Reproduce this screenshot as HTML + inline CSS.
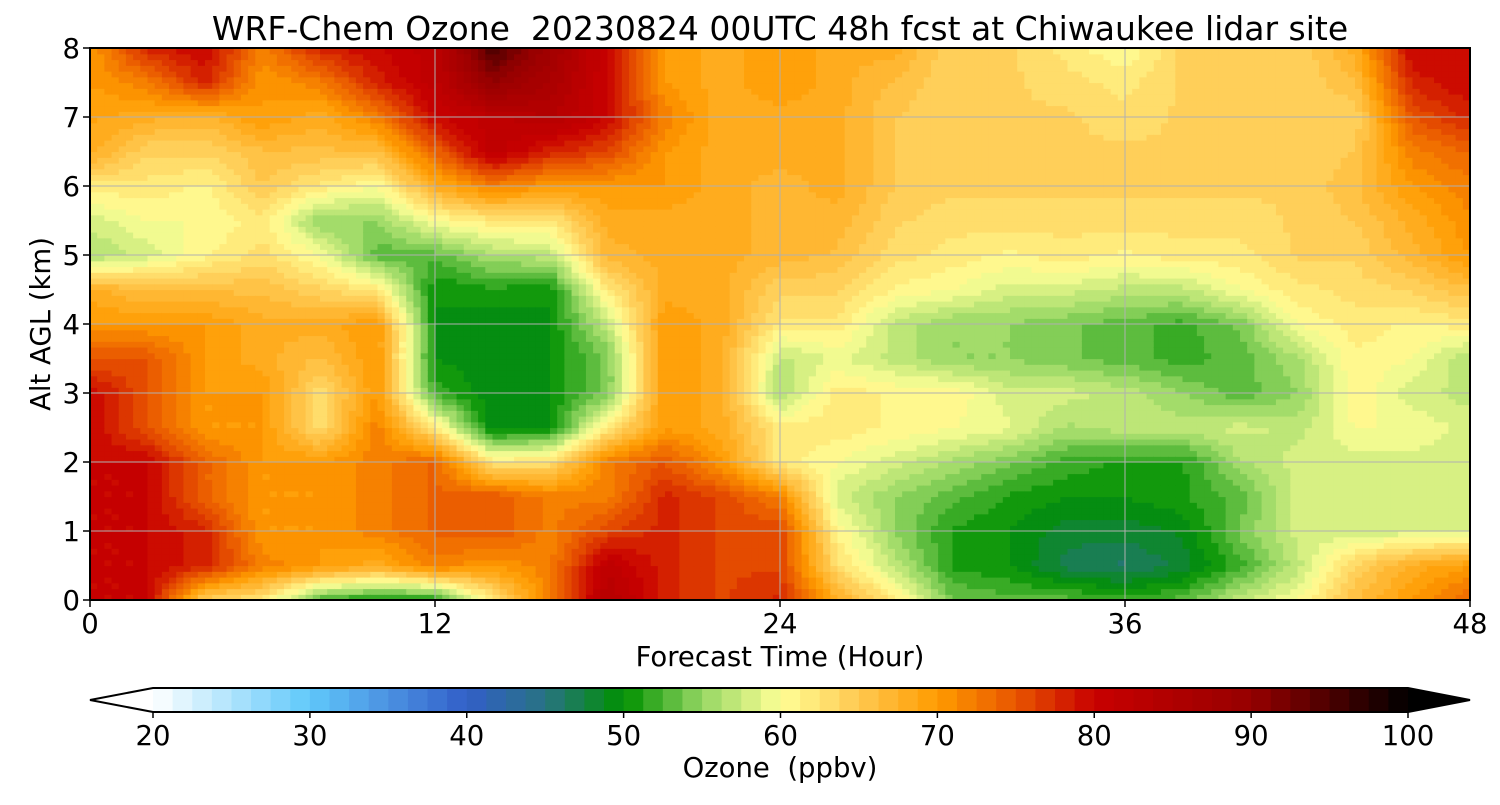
<!DOCTYPE html>
<html><head><meta charset="utf-8"><style>
body{margin:0;background:#fff;}
svg text{font-family:"DejaVu Sans","Liberation Sans",sans-serif;fill:#000;}
</style></head><body>
<svg id="chart" width="1500" height="800" viewBox="0 0 1500 800" xmlns="http://www.w3.org/2000/svg">
<text x="780" y="40" font-size="33" text-anchor="middle" xml:space="preserve">WRF-Chem Ozone  20230824 00UTC 48h fcst at Chiwaukee lidar site</text>
<g id="field"></g>
<g id="grid"></g>
<rect x="90" y="48" width="1380" height="552" fill="none" stroke="#000" stroke-width="2"/>
<g id="axes"></g>
<text x="780" y="666" font-size="27.5" text-anchor="middle">Forecast Time (Hour)</text>
<text transform="translate(50,324) rotate(-90)" font-size="27.5" text-anchor="middle">Alt AGL (km)</text>
<g id="cbar"></g>
<text x="780" y="777" font-size="27.5" text-anchor="middle" xml:space="preserve">Ozone  (ppbv)</text>
</svg>
<script>
const times=[0,2,4,6,8,10,12,14,16,18,20,22,24,26,28,30,32,34,36,38,40,42,44,46,48];
const altitudes=[0,0.5,1,1.5,2,2.5,3,3.5,4,4.5,5,5.5,6,6.5,7,7.5,8];
const ozoneByTime=[
[80,80,80,80,80,80,80,75,70,68,56,58,62,68,69,70,70],
[80,80,80,80,80,75,75,75,70,66,58,60,62,64,68,72,78],
[64,78,78,74,74,70,70,70,70,66,61,60,61,64,67,78,80],
[62,72,70,70,70,70,70,68,68,66,63,62,65,66,70,70,72],
[52,70,70,70,70,63,63,66,68,64,60,55,62,66,68,72,78],
[50,68,72,72,72,72,70,70,70,62,53,55,60,66,72,78,80],
[50,72,74,74,74,62,52,50,50,50,53,60,68,74,80,82,82],
[62,70,75,75,62,49,49,49,49,51,56,62,72,82,82,90,95],
[72,72,72,72,63,50,50,50,50,50,57,62,70,78,84,86,88],
[84,82,76,72,72,62,54,54,57,62,67,68,70,76,80,80,80],
[78,78,78,78,75,70,70,70,70,68,68,68,70,70,72,70,70],
[76,76,76,76,70,68,68,68,68,68,68,68,68,68,68,68,68],
[78,76,76,72,62,62,56,57,62,64,67,67,67,68,68,70,70],
[68,63,61,58,60,62,62,59,62,64,66,67,68,68,68,68,68],
[62,57,55,55,58,61,61,57,57,61,63,64,65,65,65,66,68],
[54,51,51,53,56,60,61,55,55,60,62,63,64,64,64,64,64],
[53,50,50,51,54,59,58,55,55,58,61,63,64,64,64,64,64],
[53,47,48,50,52,56,58,54,54,58,62,63,64,64,64,63,62],
[52,46,48,50,51,57,57,53,53,57,61,63,64,64,63,62,60],
[53,48,49,51,51,57,55,52,52,57,62,63,64,64,64,64,64],
[57,52,54,53,56,58,53,53,54,60,62,63,64,64,64,64,64],
[60,57,58,58,58,57,55,56,60,62,64,64,64,64,64,64,64],
[66,64,58,58,58,60,61,61,62,63,64,65,66,65,64,66,68],
[70,68,58,58,58,60,58,60,61,64,67,68,70,72,75,78,80],
[74,70,58,58,58,58,57,56,62,66,70,71,72,74,78,80,80]];
const xTicks=[0,12,24,36,48];
const yTicks=[0,1,2,3,4,5,6,7,8];
const cbTicks=[20,30,40,50,60,70,80,90,100];

const NS="http://www.w3.org/2000/svg";
const X0=90,X1=1470,Y0=600,Y1=48;
const xs=t=>X0+(t-0)/48*(X1-X0);
const ys=z=>Y0-(z-0)/8*(Y0-Y1);
const stops=[[20,[255,255,255]],[30,[95,200,250]],[35,[75,145,225]],[40,[50,95,200]],[45,[40,115,130]],[50,[0,145,0]],[55,[150,215,100]],[60,[255,255,150]],[65,[255,200,80]],[70,[255,155,0]],[75,[232,85,0]],[80,[200,0,0]],[90,[150,0,0]],[96,[60,0,0]],[100,[0,0,0]]];
function color(v){
  v=Math.max(20,Math.min(100,v));
  v=20+Math.floor((v-20)/1.25)*1.25+0.6;
  for(let i=0;i<stops.length-1;i++){
    const [a,ca]=stops[i],[b,cb]=stops[i+1];
    if(v<=b){const f=(v-a)/(b-a);return `rgb(${ca.map((c,k)=>Math.round(c+(cb[k]-c)*f)).join(',')})`;}
  }
  return 'rgb(0,0,0)';
}
function mk(tag,attrs,parent){const e=document.createElementNS(NS,tag);for(const k in attrs)e.setAttribute(k,attrs[k]);parent.appendChild(e);return e;}
const field=document.getElementById('field');
const SX=8,SY=6;
for(let i=0;i<times.length-1;i++){
  for(let j=0;j<altitudes.length-1;j++){
    const x0=xs(times[i]),x1=xs(times[i+1]),y0=ys(altitudes[j]),y1=ys(altitudes[j+1]);
    const a=ozoneByTime[i][j],b=ozoneByTime[i+1][j],c=ozoneByTime[i][j+1],d=ozoneByTime[i+1][j+1];
    for(let p=0;p<SX;p++)for(let q=0;q<SY;q++){
      const u=(p+0.5)/SX,w=(q+0.5)/SY;
      const v=a*(1-u)*(1-w)+b*u*(1-w)+c*(1-u)*w+d*u*w;
      const r=mk('rect',{x:(x0+(x1-x0)*p/SX).toFixed(2),y:(y0+(y1-y0)*(q+1)/SY).toFixed(2),width:((x1-x0)/SX+0.6).toFixed(2),height:((y0-y1)/SY+0.6).toFixed(2),fill:color(v)},field);
      
      
    }
  }
}
const grid=document.getElementById('grid'),axes=document.getElementById('axes');
xTicks.forEach(t=>{
  const l=mk('line',{x1:xs(t),x2:xs(t),y1:Y1,y2:Y0,stroke:'#b0b0b0','stroke-width':1},grid);
  
  mk('line',{x1:xs(t),x2:xs(t),y1:Y0,y2:Y0+7,stroke:'#000','stroke-width':1.5},axes);
  const tx=mk('text',{x:xs(t),y:633,'font-size':27.5,'text-anchor':'middle'},axes);tx.textContent=t;
  
});
yTicks.forEach(z=>{
  const l=mk('line',{x1:X0,x2:X1,y1:ys(z),y2:ys(z),stroke:'#b0b0b0','stroke-width':1},grid);
  
  mk('line',{x1:X0-7,x2:X0,y1:ys(z),y2:ys(z),stroke:'#000','stroke-width':1.5},axes);
  const tx=mk('text',{x:80,y:ys(z)+10,'font-size':27.5,'text-anchor':'end'},axes);tx.textContent=z;
  
});
const cb=document.getElementById('cbar');
const C0=153,C1=1408,CY0=688,CY1=712;
const cx=v=>C0+(v-20)/80*(C1-C0);
for(let k=0;k<64;k++){
  const v=20+k*1.25;
  const r=mk('rect',{x:cx(v).toFixed(2),y:CY0,width:((C1-C0)/64+0.5).toFixed(2),height:CY1-CY0,fill:color(v+0.6)},cb);
  
}
mk('polygon',{points:`${C0},${CY0} 90,700 ${C0},${CY1}`,fill:'#fff'},cb);
mk('polygon',{points:`${C1},${CY0} 1470,700 ${C1},${CY1}`,fill:'#000'},cb);
mk('polygon',{points:`${C0},${CY0} ${C1},${CY0} 1470,700 ${C1},${CY1} ${C0},${CY1} 90,700`,fill:'none',stroke:'#000','stroke-width':2},cb);
cbTicks.forEach(v=>{
  mk('line',{x1:cx(v),x2:cx(v),y1:CY1,y2:CY1+6,stroke:'#000','stroke-width':1.5},cb);
  const tx=mk('text',{x:cx(v),y:745,'font-size':27.5,'text-anchor':'middle'},cb);tx.textContent=v;
  
});
</script>
</body></html>
